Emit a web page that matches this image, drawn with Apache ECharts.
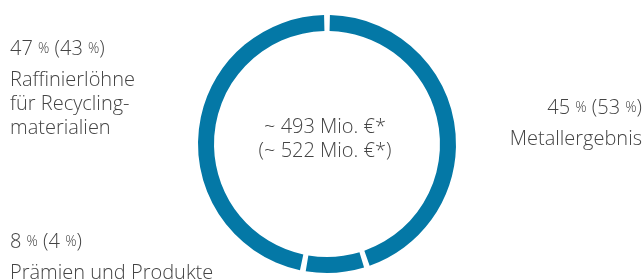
<!DOCTYPE html>
<html>
<head>
<meta charset="utf-8">
<script src="https://cdn.jsdelivr.net/npm/echarts@6/dist/echarts.min.js"></script>
<style>
  html, body { margin: 0; padding: 0; background: #fff; }
  #chart { width: 643px; height: 279px; }
</style>
</head>
<body>
<div id="chart"></div>
<script>
// Anteile (aktuell / Vorjahr)
var names = ['Metallergebnis', 'Prämien und Produkte', 'Raffinierlöhne\nfür Recycling-\nmaterialien'];
var values = [45, 8, 47];
var prevValues = [53, 4, 43];
var totalNow = '~ 493 Mio. €*';
var totalPrev = '(~ 522 Mio. €*)';

var chart = echarts.init(document.getElementById('chart'));

// Label-Positionen je Segment
var labelPos = [
  { x: 642, y: 94, align: 'right' },
  { x: 10, y: 228, align: 'left' },
  { x: 10, y: 35, align: 'left' }
];

var textColor = '#444';
var fontFam = '"Open Sans", "DejaVu Sans", sans-serif';

var option = {
  animation: false,
  graphic: [{
    type: 'text',
    x: 325,
    y: 139,
    style: {
      text: totalNow + '\n' + totalPrev,
      align: 'center',
      verticalAlign: 'middle',
      fill: textColor,
      font: '300 20px ' + fontFam,
      lineHeight: 24
    }
  }],
  series: [{
    type: 'pie',
    center: [327, 144],
    radius: [113, 129],
    startAngle: 90,
    clockwise: true,
    padAngle: 2.6,
    silent: true,
    itemStyle: { color: '#0478a6' },
    emphasis: { disabled: true },
    labelLine: { show: false },
    label: {
      show: true,
      color: textColor,
      fontFamily: fontFam,
      fontWeight: 300,
      fontSize: 20,
      lineHeight: 24,
      formatter: function(p) {
        var i = p.dataIndex;
        return '{v|' + values[i] + ' }{p|%}{v| (' + prevValues[i] + ' }{p|%}{v|)}\n{n|' + names[i] + '}';
      },
      rich: {
        v: { fontSize: 20, fontWeight: 300, color: textColor, fontFamily: fontFam, lineHeight: 33, padding: [0, 0, 4, 0] },
        p: { fontSize: 14, fontWeight: 300, color: textColor, fontFamily: fontFam, lineHeight: 33, padding: [0, 0, 4, 0] },
        n: { fontSize: 20, fontWeight: 300, color: textColor, fontFamily: fontFam, lineHeight: 24 }
      }
    },
    labelLayout: function(params) {
      var pos = labelPos[params.dataIndex];
      return { x: pos.x, y: pos.y, align: pos.align, verticalAlign: 'top' };
    },
    data: names.map(function(n, i) {
      return { name: n, value: values[i] };
    })
  }]
};

chart.setOption(option);
</script>
</body>
</html>
